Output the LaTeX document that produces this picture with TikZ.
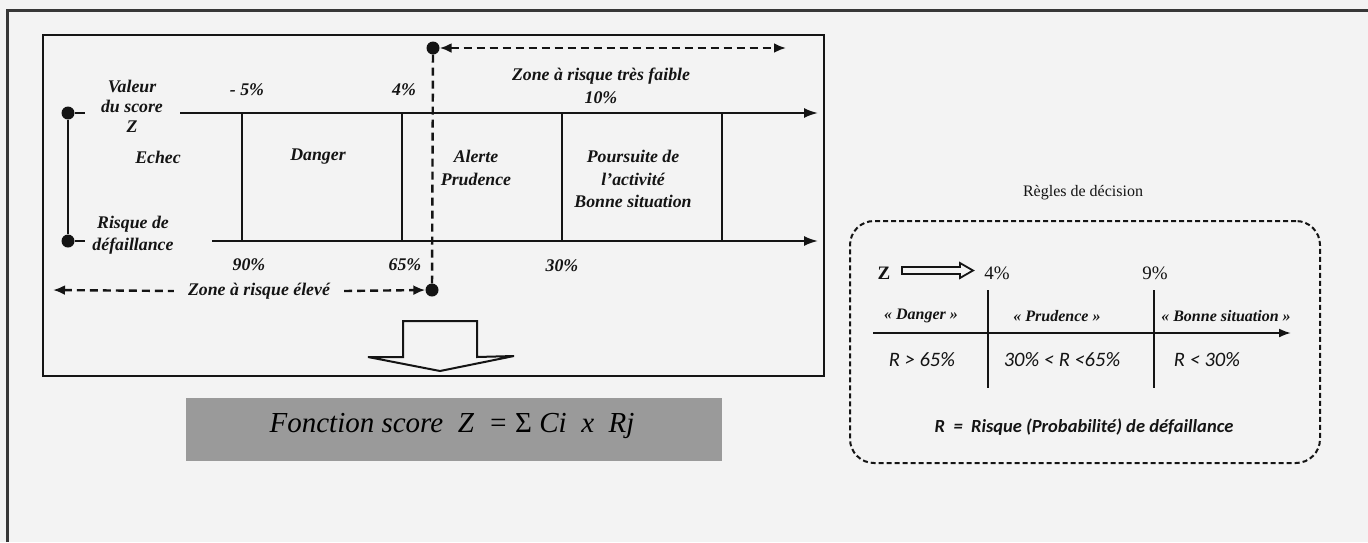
\documentclass[tikz,border=0pt]{standalone}
\usepackage{fontspec}
\setmainfont{Liberation Serif}
\newfontfamily\calfnt{Carlito}
\usetikzlibrary{arrows.meta}
\definecolor{bgc}{HTML}{F3F3F3}
\definecolor{ink}{HTML}{141414}
\definecolor{gboxc}{HTML}{9A9A9A}
\begin{document}
\begin{tikzpicture}[x=1pt,y=-1pt,
  every node/.style={inner sep=0pt, text=ink},
  lab/.style={font=\fontsize{17.8}{22.5}\selectfont\bfseries\itshape, align=center},
  rserif/.style={font=\fontsize{16}{19}\selectfont\bfseries\itshape},
  rcal/.style={font=\fontsize{20.5}{23}\selectfont\calfnt\itshape},
  stroke/.style={line width=2pt, draw=ink},
  axis/.style={line width=2pt, draw=ink, -{Latex[length=14pt,width=10pt]}},
  dsh/.style={line width=2.4pt, draw=ink, dash pattern=on 8pt off 5pt},
  blob/.style={circle, fill=ink, minimum size=13pt},
  hollow/.style={line width=1.8pt, draw=ink, line join=miter}]
% background and bounding box
\fill[bgc] (0,0) rectangle (1368,542);
\useasboundingbox (0,0) rectangle (1368,542);
% outer frame
\draw[line width=3pt, draw=ink!85] (7,542) -- (7,10) -- (1368,10);
% inner box
\draw[line width=2.4pt, draw=ink] (43,35) rectangle (824,376);
% axes
\coordinate (ta0) at (180,113); \coordinate (ta1) at (818,113);
\coordinate (ba0) at (212,241); \coordinate (ba1) at (818,241);
\draw[axis] (ta0) -- (ta1);
\draw[axis] (ba0) -- (ba1);
\foreach \xx/\nm in {242/v1,402/v2,562/v3,722/v4}{
  \coordinate (\nm t) at (\xx,113); \coordinate (\nm b) at (\xx,241);
  \draw[stroke] (\nm t) -- (\nm b);
}
% left marker
\node[blob] (m1) at (68,113) {};
\node[blob] (m2) at (68,241) {};
\coordinate (m1r) at (85,113); \coordinate (m2r) at (85,241);
\draw[stroke] (m1) -- (m2);
\draw[stroke] (m1) -- (m1r);
\draw[stroke] (m2) -- (m2r);
% dashed separator and zone arrows
\node[blob] (dtop) at (433,48) {};
\node[blob] (dbot) at (432,290) {};
\draw[dsh] (dtop) -- (dbot);
\coordinate (tz) at (786,48);
\draw[dsh, {Latex[length=12pt,width=10pt]}-{Latex[length=12pt,width=10pt]}] (dtop.east) -- (tz);
\node[lab, inner xsep=14pt] (zel) at (259,291) {Zone à risque élevé};
\coordinate (bz) at (53,290);
\draw[dsh, {Latex[length=12pt,width=10pt]}-] (bz) -- (zel.west);
\draw[dsh, -{Latex[length=12pt,width=10pt]}] (zel.east) -- (dbot.west);
% labels in the left box
\node[lab, font=\fontsize{17.8}{20}\selectfont\bfseries\itshape] (vs) at (132,106) {Valeur\\du score\\Z};
\node[lab] (m5) at (247,90) {- 5\%};
\node[lab] (p4) at (404,90) {4\%};
\node[lab] (ech) at (158,157) {Echec};
\node[lab] (dan) at (318,157) {Danger};
\node[lab] (alp) at (476,168) {Alerte\\Prudence};
\node[lab] (pou) at (633,179) {Poursuite de\\l’activité\\Bonne situation};
\node[lab] (rdf) at (133,235) {Risque de\\défaillance};
\node[lab] (p90) at (249,265) {90\%};
\node[lab] (p65) at (405,265) {65\%};
\node[lab] (p30) at (562,266) {30\%};
\node[lab] (ztf) at (601,86) {Zone à risque très faible\\10\%};
% big hollow arrow down
\draw[hollow, line width=2pt] (403,357) -- (403,321) -- (477,321) -- (477,357) -- (514,356) -- (440,371) -- (368,357) -- cycle;
% score function box
\node[fill=gboxc, minimum width=536pt, minimum height=63pt] (fsbox) at (454,429.5) {};
\node[font=\fontsize{29}{32}\selectfont\itshape, text=black] (fs) at (452,426) {Fonction score\ \ Z\ \ = {\upshape Σ} Ci\ \ x\ \ Rj};
% decision rules
\node[font=\fontsize{16}{19}\selectfont] (rdt) at (1083,193) {Règles de décision};
\node[draw=ink, line width=2pt, dash pattern=on 5pt off 3pt, rounded corners=24pt,
      minimum width=470pt, minimum height=242pt] (rbox) at (1085,342) {};
\node[font=\fontsize{19}{22}\selectfont\bfseries] (zz) at (884,273) {Z};
\draw[hollow] (902,267) -- (960,267) -- (960,263) -- (973,270.5) -- (960,278) -- (960,274) -- (902,274) -- cycle;
\node[font=\fontsize{19}{22}\selectfont] (r4) at (997,273) {4\%};
\node[font=\fontsize{19}{22}\selectfont] (r9) at (1155,273) {9\%};
\coordinate (ra0) at (873,333); \coordinate (ra1) at (1291,333);
\draw[line width=2pt, draw=ink, -{Latex[length=12pt,width=9pt]}] (ra0) -- (ra1);
\coordinate (w1t) at (988,290); \coordinate (w1b) at (988,388);
\coordinate (w2t) at (1154,290); \coordinate (w2b) at (1154,388);
\draw[stroke, line width=2.2pt] (w1t) -- (w1b);
\draw[stroke, line width=2.2pt] (w2t) -- (w2b);
\node[rserif] (rdg) at (921,316) {« Danger »};
\node[rserif] (rpr) at (1057,316) {« Prudence »};
\node[rserif] (rbs) at (1226,316) {« Bonne situation »};
\node[rcal] (c1) at (922,360) {R > 65\%};
\node[rcal] (c2) at (1062,360) {30\% < R <65\%};
\node[rcal] (c3) at (1207,360) {R < 30\%};
\node[font=\fontsize{18.5}{22}\selectfont\calfnt\bfseries\itshape] (rdef) at (1084,427) {R\ \ =\ \ Risque (Probabilité) de défaillance};
\end{tikzpicture}
\end{document}
